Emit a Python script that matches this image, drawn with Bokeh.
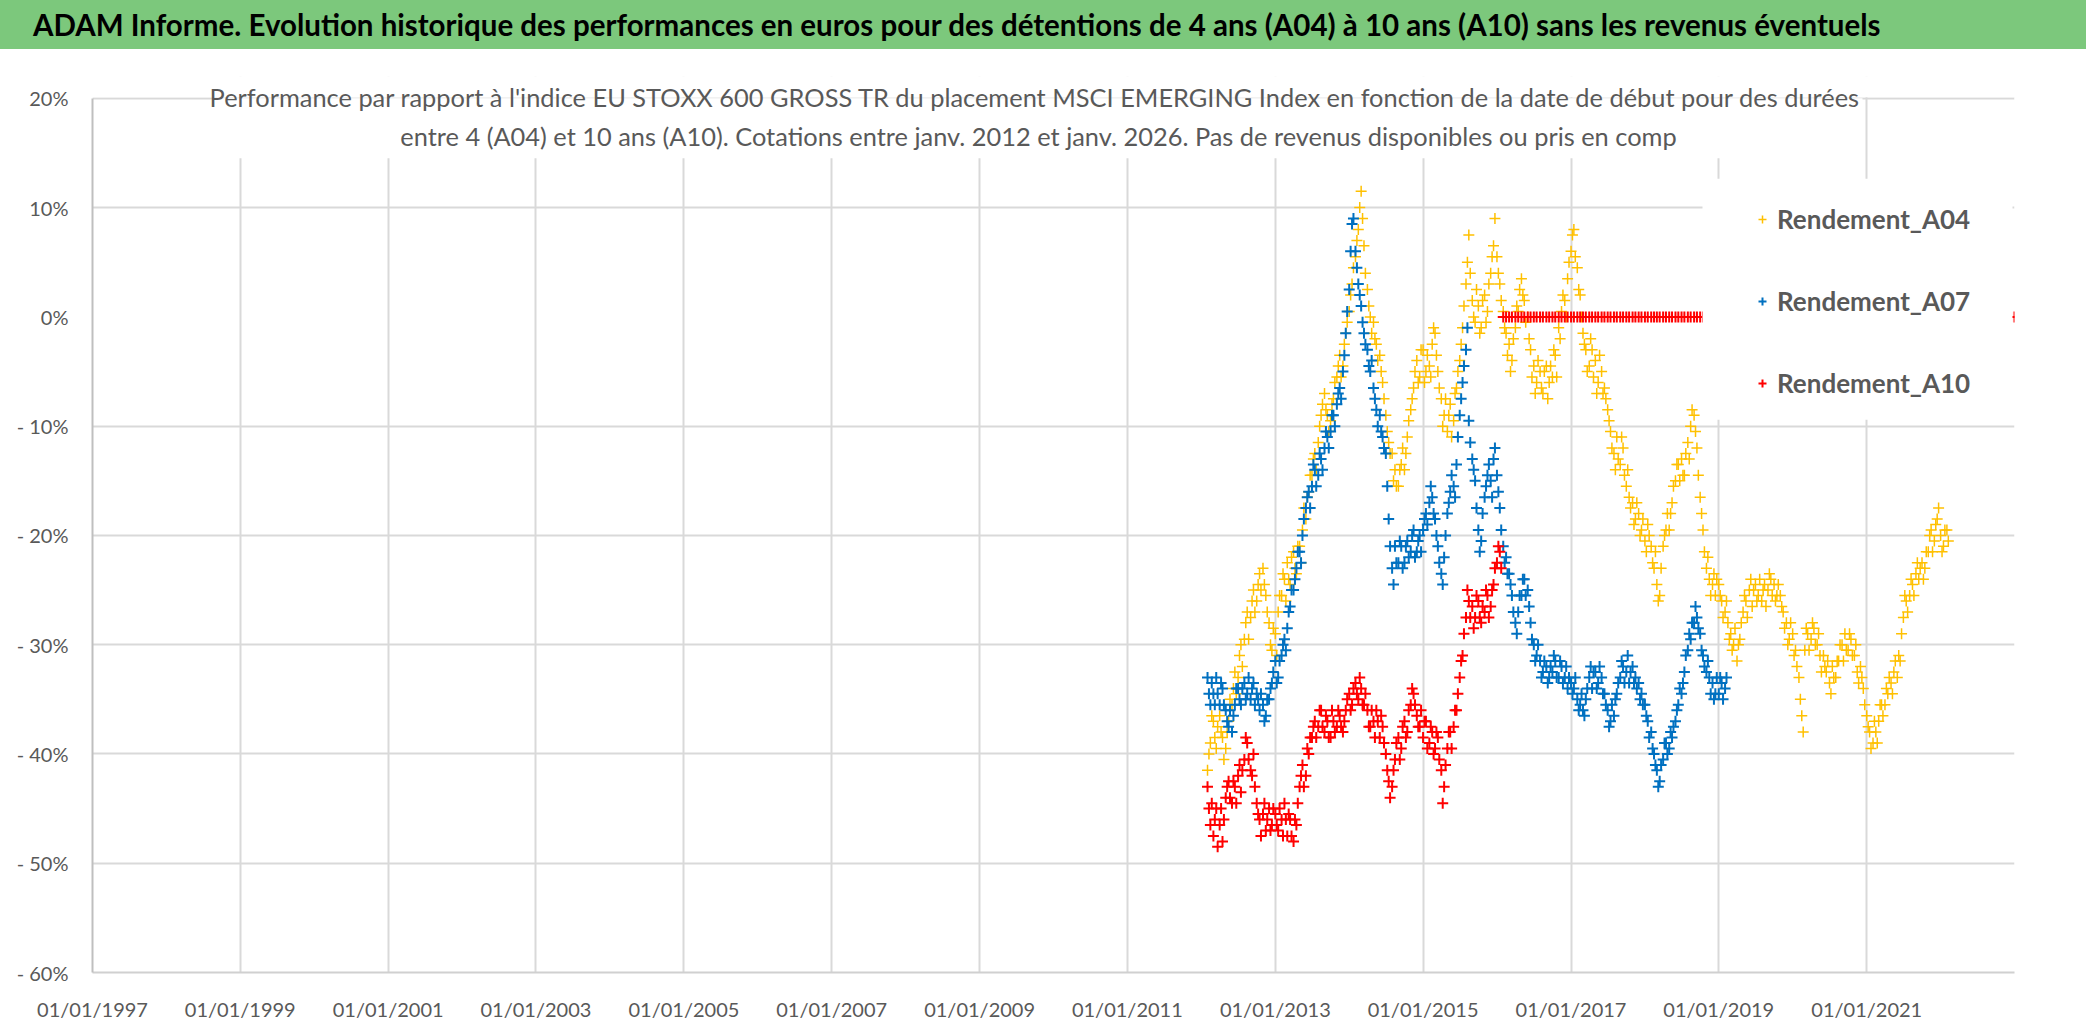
import pandas as pd
from bokeh.plotting import figure
from bokeh.layouts import column
from bokeh.models import (Range1d, FixedTicker, DatetimeTickFormatter, Label,
                          BoxAnnotation, Div)
from bokeh.embed import file_html
from bokeh.resources import INLINE

TITLE = ("ADAM Informe. Evolution historique des performances en euros pour des "
         "détentions de 4 ans (A04) à 10 ans (A10) sans les revenus éventuels")
SUB1 = ("Performance par rapport à l'indice EU STOXX 600 GROSS TR  du placement MSCI "
        "EMERGING Index en fonction de la date de début pour des durées")
SUB2 = ("entre 4 (A04) et 10 ans (A10). Cotations entre janv. 2012 et janv. 2026. "
        "Pas de revenus disponibles ou pris en comp")

SERIES = ["Rendement_A04", "Rendement_A07", "Rendement_A10"]
COLORS = ["#FFC000", "#0070C0", "#FF0000"]

# performance in %, from 01/02/2012
# *_A : readings on the 1st and 15th of each month, *_B : on the 8th and 22nd
START = "2012-02-01"
A04_A = [
    -41.5, -39.0, -37.0, -39.5, -36.5, -38.5, -39.5, -37.0, -35.5, -32.5, -33.0, -30.0,
    -29.5, -27.0, -27.5, -25.0, -26.0, -23.5, -23.0, -25.5, -28.0, -30.5,
    -29.0, -27.0, -25.5, -24.0, -22.5, -24.5, -21.5, -23.5, -21.0, -19.5, -18.5, -16.0,
    -14.5, -12.5, -11.5, -9.0, -7.0, -9.0, -9.5, -7.5, -5.5, -3.5, -4.5, -1.5,
    0.5, 3.0, 5.5, 8.0, 11.5, 6.5, 2.5, 0.0, -0.5, -2.5, -3.5, -6.0,
    -9.0, -11.5, -12.5, -14.0, -15.5, -13.5, -14.0, -11.0, -8.5, -6.5, -4.0, -5.5,
    -3.0, -5.0, -4.5, -2.5, -1.5, -5.0, -7.5, -9.0, -10.5, -8.0, -9.5, -6.5,
    -4.0, -1.0, 3.0, 7.5, 1.5, -0.5, 1.0, -1.0, 2.0, 0.5, 4.0, 6.5,
    5.5, 3.0, 0.5, -1.5, -2.5, -4.0, -1.0, 0.5, 3.5, 1.5, 0.0, -3.0,
    -4.5, -6.0, -5.0, -7.0, -4.5, -6.0, -5.5, -3.5, -1.0, 0.5, 1.5, 3.5,
    6.0, 8.0, 4.5, 2.0, -1.5, -3.0, -4.5, -3.0, -4.0, -6.0, -5.0, -6.5,
    -8.5, -10.5, -12.5, -11.0, -13.5, -12.0, -15.5, -16.5, -17.0, -18.5, -18.0, -19.5,
    -20.5, -19.0, -21.0, -23.0, -24.5, -25.5, -21.0, -19.5, -19.5, -17.0, -15.0, -13.5,
    -13.0, -14.5, -11.5, -10.0, -9.0, -12.0, -16.5, -19.5, -23.0, -24.0, -24.5, -25.5,
    -24.5, -26.0, -27.0, -28.0, -29.0, -30.0, -31.5, -29.5, -27.0, -26.0, -25.0, -26.5,
    -24.5, -25.5, -26.0, -24.5, -25.0, -24.0, -24.5, -25.5, -25.5, -27.0, -28.0, -29.5,
    -29.0, -30.5, -33.0, -36.5, -30.5, -29.0, -29.5, -28.5, -30.0, -31.0, -31.0, -32.5,
    -33.5, -32.0, -33.0, -31.5, -30.0, -29.0, -30.5, -29.5, -31.0, -32.5, -32.0, -34.0,
    -36.5, -38.0, -39.0, -38.0, -37.0, -35.5, -35.5, -34.5, -33.5, -32.5, -33.0, -31.5,
    -27.5, -26.0, -25.5, -24.5, -23.5, -24.0, -22.5, -23.0, -21.5, -19.5, -20.5, -18.5,
    -20.0, -21.0, -19.5,
]
A04_B = [
    -40.0, -36.5, -38.5, -37.5, -38.0, -40.5, -38.0, -35.0, -34.0, -34.5, -31.0, -32.0,
    -28.0, -29.5, -26.0, -27.0, -24.5, -25.0, -24.5, -27.0, -30.0, -28.5,
    -31.0, -25.5, -23.5, -26.0, -24.0, -22.0, -23.0, -21.0, -22.5, -17.5, -16.5, -14.5,
    -13.0, -14.0, -10.0, -8.0, -8.5, -10.5, -8.0, -6.0, -4.5, -5.5, -2.5, -0.5,
    2.0, 4.5, 7.0, 10.0, 9.0, 4.0, 1.0, -1.5, -2.0, -4.0, -5.0, -7.5,
    -10.5, -12.5, -15.0, -15.5, -14.0, -12.0, -12.5, -9.5, -7.5, -5.0, -6.0, -3.0,
    -6.0, -3.5, -5.5, -1.0, -3.5, -6.5, -10.0, -7.5, -9.0, -11.0, -7.0, -5.0,
    -2.5, 1.0, 5.0, 4.0, 0.0, 2.5, -1.5, 1.5, -0.5, 3.0, 5.5, 9.0,
    4.0, 1.5, -1.0, -3.5, -5.0, -2.0, 1.0, 2.5, 2.0, -0.5, -2.0, -5.5,
    -7.0, -4.0, -6.5, -5.0, -7.5, -4.5, -3.0, -5.5, -2.0, 2.0, 0.0, 5.0,
    7.5, 5.5, 2.5, 0.0, -2.5, -5.0, -2.0, -5.5, -7.0, -3.5, -7.0, -7.5,
    -9.5, -12.0, -14.0, -13.0, -11.0, -14.5, -14.0, -17.5, -19.0, -17.0, -20.0, -18.5,
    -21.5, -20.0, -22.5, -21.5, -26.0, -23.0, -20.0, -18.0, -18.0, -15.5, -13.5, -15.0,
    -14.5, -12.5, -13.0, -8.5, -10.5, -14.5, -18.0, -21.5, -22.0, -25.5, -23.5, -24.0,
    -25.5, -27.5, -26.0, -29.5, -30.5, -28.5, -30.0, -28.0, -25.5, -27.5, -24.0, -25.0,
    -26.0, -24.0, -25.0, -26.5, -23.5, -25.5, -26.0, -24.5, -26.5, -28.5, -30.0, -28.0,
    -31.0, -32.0, -35.0, -38.0, -28.5, -30.5, -28.0, -30.0, -29.0, -32.5, -32.0, -31.5,
    -34.5, -33.0, -31.5, -30.0, -31.5, -30.5, -29.0, -31.0, -30.0, -33.5, -33.0, -35.5,
    -37.5, -39.5, -37.0, -39.0, -35.5, -36.5, -34.0, -33.0, -34.5, -31.5, -31.0, -29.0,
    -25.5, -27.0, -24.0, -25.5, -22.5, -23.0, -24.0, -21.5, -20.0, -21.5, -19.0, -17.5,
    -21.5, -19.5, -20.5,
]
A07_A = [
    -33.0, -35.5, -34.5, -33.0, -35.5, -34.0, -36.0, -37.5, -38.0, -35.5, -34.0, -35.5,
    -33.5, -34.5, -35.0, -33.5, -34.5, -36.0, -35.5, -36.5, -35.0, -33.5,
    -31.5, -33.0, -31.0, -29.5, -28.5, -26.5, -25.0, -23.0, -21.5, -20.0, -17.5, -16.0,
    -15.5, -14.0, -14.5, -13.0, -12.0, -11.0, -10.5, -9.0, -8.0, -6.5, -5.0, -1.5,
    2.5, 8.5, 6.0, 3.0, 1.0, -1.5, -3.0, -5.0, -6.5, -8.5, -9.0, -11.0,
    -12.5, -18.5, -23.0, -21.0, -22.5, -21.0, -22.5, -20.5, -21.5, -19.5, -21.5, -20.0,
    -19.5, -18.0, -17.0, -16.5, -18.5, -21.0, -23.5, -22.0, -18.0, -16.0, -15.5, -13.5,
    -9.0, -6.0, -3.0, -9.5, -13.0, -15.0, -19.5, -20.5, -16.5, -14.5, -15.0, -13.0,
    -14.5, -17.5, -21.0, -22.0, -23.5, -25.5, -28.0, -27.0, -25.5, -24.0, -25.0, -28.0,
    -30.0, -31.0, -31.5, -32.5, -32.0, -33.0, -32.5, -31.5, -33.0, -32.0, -33.0, -34.0,
    -33.5, -34.0, -35.0, -35.5, -36.0, -35.0, -33.0, -34.0, -32.5, -33.5, -33.0, -34.5,
    -36.0, -37.0, -36.5, -34.5, -33.0, -32.0, -32.5, -33.5, -32.0, -33.0, -33.5, -34.5,
    -35.5, -37.0, -38.0, -40.0, -41.5, -42.5, -40.5, -39.0, -39.5, -38.5, -37.0, -35.5,
    -34.5, -32.5, -30.5, -29.5, -28.0, -27.5, -29.0, -31.0, -32.5, -33.0, -33.5, -34.5,
    -34.5, -33.5, -34.0,
]
A07_B = [
    -34.5, -33.5, -35.5, -34.5, -33.5, -35.5, -37.0, -36.0, -36.5, -34.0, -35.0, -34.0,
    -35.0, -33.0, -34.0, -35.5, -35.0, -34.5, -37.0, -35.0, -34.0, -32.5,
    -33.5, -31.5, -30.0, -30.5, -27.0, -25.0, -24.0, -21.5, -22.5, -18.5, -16.5, -17.5,
    -13.5, -15.5, -12.5, -14.0, -10.5, -12.0, -9.0, -10.0, -7.0, -7.5, -3.5, 0.5,
    6.0, 9.0, 4.5, 2.0, -0.5, -2.5, -4.5, -4.0, -7.5, -10.0, -10.5, -12.0,
    -15.5, -21.0, -24.5, -22.5, -20.5, -23.0, -21.0, -22.0, -20.0, -22.0, -20.5, -21.5,
    -18.5, -19.0, -15.5, -18.0, -20.0, -22.5, -24.5, -20.0, -17.0, -14.5, -16.5, -11.0,
    -7.5, -4.5, -1.0, -11.5, -14.0, -17.5, -21.5, -18.0, -15.5, -13.5, -16.5, -12.0,
    -16.0, -19.5, -22.5, -23.5, -24.5, -27.0, -29.0, -25.5, -24.0, -25.5, -26.5, -29.5,
    -31.5, -30.0, -33.0, -31.5, -33.5, -32.0, -31.0, -33.0, -31.5, -33.5, -32.0, -33.0,
    -34.5, -33.0, -36.0, -34.5, -36.5, -34.0, -32.0, -32.5, -34.0, -32.0, -34.5, -35.5,
    -37.5, -35.5, -35.0, -33.5, -31.5, -33.5, -31.0, -32.5, -33.5, -34.0, -35.0, -35.5,
    -36.5, -38.5, -39.5, -41.0, -43.0, -41.0, -39.0, -40.0, -38.0, -37.5, -36.0, -34.0,
    -33.5, -31.0, -29.0, -28.0, -26.5, -28.5, -30.5, -32.0, -31.5, -34.5, -35.0, -33.0,
    -33.0, -35.0, -33.0,
]
# A10: from 02/2016 the sheet has no 10 year result and shows 0 up to the end of the axis
A10_A = [
    -43.0, -46.5, -47.5, -45.0, -46.5, -48.0, -44.0, -42.5, -44.5, -43.0, -42.0, -43.5,
    -40.5, -39.0, -41.5, -40.0, -44.5, -46.0, -45.5, -47.0, -45.0, -46.5,
    -45.5, -47.0, -46.0, -44.5, -47.5, -46.0, -48.0, -46.5, -43.0, -41.0, -42.0, -40.0,
    -38.5, -37.0, -37.5, -36.0, -38.0, -37.0, -38.5, -37.0, -37.5, -36.5, -38.0, -36.0,
    -34.5, -35.5, -33.5, -35.0, -34.0, -35.5, -36.0, -37.5, -37.0, -36.0, -38.5, -37.5,
    -40.0, -42.5, -43.0, -40.5, -38.5, -39.5, -37.0, -38.0, -35.5, -34.5, -36.5, -37.5,
    -38.5, -37.0, -39.0, -38.0, -39.5, -38.5, -41.5, -43.0, -39.5, -38.0, -37.5, -36.0,
    -33.0, -31.0, -27.5, -26.0, -26.5, -27.5, -26.0, -28.0, -27.0, -25.5, -26.5, -24.5,
    -22.5, -21.5,
    0, 0, 0, 0, 0, 0, 0, 0, 0, 0, 0, 0, 0, 0, 0, 0, 0, 0, 0, 0, 0, 0,
    0, 0, 0, 0, 0, 0, 0, 0, 0, 0, 0, 0, 0, 0, 0, 0, 0, 0, 0, 0, 0, 0, 0, 0,
    0, 0, 0, 0, 0, 0, 0, 0, 0, 0, 0, 0, 0, 0, 0, 0, 0, 0, 0, 0, 0, 0, 0, 0,
    0, 0, 0, 0, 0, 0, 0, 0, 0, 0, 0, 0, 0, 0, 0, 0, 0, 0, 0, 0, 0, 0, 0, 0,
    0, 0, 0, 0, 0, 0, 0, 0, 0, 0, 0, 0, 0, 0, 0, 0, 0, 0, 0, 0, 0, 0, 0, 0,
    0, 0, 0, 0, 0, 0, 0, 0, 0, 0, 0, 0, 0, 0, 0, 0, 0, 0, 0, 0, 0, 0, 0, 0,
    0, 0, 0, 0, 0, 0, 0, 0, 0, 0, 0, 0, 0, 0, 0, 0, 0, 0, 0, 0, 0, 0, 0, 0,
    0,
]
A10_B = [
    -45.0, -44.5, -46.0, -48.5, -45.0, -46.0, -43.0, -44.0, -42.5, -44.5, -41.0, -41.5,
    -38.5, -40.5, -42.0, -43.0, -45.5, -47.5, -44.5, -46.0, -47.0, -45.0,
    -46.5, -45.0, -47.5, -46.0, -45.5, -47.5, -46.0, -44.5, -42.0, -43.0, -39.5, -38.5,
    -37.5, -38.5, -36.0, -37.5, -36.5, -38.5, -36.0, -38.0, -36.0, -37.5, -37.0, -35.0,
    -36.0, -34.0, -34.5, -33.0, -35.5, -34.5, -37.5, -36.0, -38.5, -37.0, -36.5, -39.0,
    -41.5, -44.0, -41.5, -39.0, -40.5, -37.5, -38.5, -36.0, -34.0, -35.5, -37.5, -36.0,
    -37.0, -39.5, -37.5, -40.0, -38.0, -40.5, -44.5, -41.0, -38.0, -39.5, -36.0, -34.5,
    -31.5, -29.0, -25.0, -27.5, -28.5, -25.5, -27.5, -26.5, -25.0, -27.5, -25.0, -23.0,
    -21.0, -23.0,
]

Y_TICKS = [-60, -50, -40, -30, -20, -10, 0, 10, 20]
Y_LABELS = ["- 60%", "- 50%", "- 40%", "- 30%", "- 20%", "- 10%", "0%", "10%", "20%"]
X_LABELS = ["01/01/1997", "01/01/1999", "01/01/2001", "01/01/2003", "01/01/2005",
            "01/01/2007", "01/01/2009", "01/01/2011", "01/01/2013", "01/01/2015",
            "01/01/2017", "01/01/2019", "01/01/2021"]
X_START, X_END = "1997-01-01", "2023-01-01"
Y_TOP = 22  # a little room above 20% for the chart title

FONT = "Lato"
GREY = "#595959"
GREEN = "#7CC87C"
W = 2086
HEAD_H = 49
MAIN_H = 982
ML, MR, MT, MB = 92, 72, 27, 59
FRAME_W = W - ML - MR
FRAME_H = MAIN_H - MT - MB
PX_PER_PCT = FRAME_H / (Y_TOP - Y_TICKS[0])


def ms(s, fmt=None):
    return pd.to_datetime(s, format=fmt).value / 1e6


X0, X1 = ms(X_START), ms(X_END)


def fx(px):
    # pixels from the frame left -> data x
    return X0 + (X1 - X0) * px / FRAME_W


def fy(py):
    # pixels below the 20% line -> data y
    return Y_TICKS[-1] - py / PX_PER_PCT


# green banner
head = Div(text=TITLE, width=W, height=HEAD_H, margin=0,
           styles={"background-color": GREEN, "font-family": FONT, "font-weight": "bold",
                   "font-size": "29.5px", "color": "black", "line-height": "49px",
                   "padding-left": "33px", "box-sizing": "border-box",
                   "white-space": "nowrap", "overflow": "hidden"})

p = figure(width=W, height=MAIN_H, x_axis_type="datetime",
           x_range=Range1d(X0, X1), y_range=Range1d(Y_TICKS[0], Y_TOP),
           toolbar_location=None, output_backend="svg", margin=0,
           min_border_left=ML, min_border_right=MR, min_border_top=MT, min_border_bottom=MB)
p.outline_line_color = None
p.background_fill_color = "white"
p.border_fill_color = "white"

x_ticks = [ms(s, "%d/%m/%Y") for s in X_LABELS]
p.xaxis.ticker = FixedTicker(ticks=x_ticks)
p.xaxis.formatter = DatetimeTickFormatter(
    years="%d/%m/%Y", months="%d/%m/%Y", days="%d/%m/%Y", hours="%d/%m/%Y")
p.yaxis.ticker = FixedTicker(ticks=Y_TICKS)
p.yaxis.major_label_overrides = dict(zip(Y_TICKS, Y_LABELS))
p.yaxis.bounds = (Y_TICKS[0], Y_TICKS[-1])
p.xgrid.ticker = FixedTicker(ticks=x_ticks)
p.ygrid.ticker = FixedTicker(ticks=[t for t in Y_TICKS if t != 0])
p.grid.grid_line_color = "#D9D9D9"
p.grid.grid_line_width = 2

for ax in (p.xaxis, p.yaxis):
    ax.major_tick_line_color = None
    ax.minor_tick_line_color = None
    ax.major_label_text_font = FONT
    ax.major_label_text_font_size = "20px"
    ax.major_label_text_color = GREY
    ax.major_label_standoff = 18
p.xaxis.axis_line_color = "#D0D0D0"
p.xaxis.axis_line_width = 2
p.yaxis.axis_line_color = "#BFBFBF"
p.yaxis.axis_line_width = 2

# white areas: above 20%, behind the chart title and behind the legend
# (added before the glyphs so that the legend is drawn over them)
white = dict(fill_color="white", fill_alpha=1, line_color=None)
p.add_layout(BoxAnnotation(left=X0, right=X1, top=Y_TOP + 1, bottom=fy(-1.2), **white))
p.add_layout(BoxAnnotation(left=fx(124), right=fx(1770), top=fy(0), bottom=fy(60), **white))
p.add_layout(BoxAnnotation(left=fx(1610), right=fx(1920), top=fy(80.5), bottom=fy(321.5), **white))
for txt, py in ((SUB1, -1.5), (SUB2, 37.5)):
    p.add_layout(Label(x=fx(946), y=fy(py), text=txt, text_font=FONT,
                       text_font_size="25.4px", text_color=GREY,
                       text_align="center", text_baseline="middle"))

for name, va, vb, color, lw in zip(SERIES, [A04_A, A07_A, A10_A], [A04_B, A07_B, A10_B],
                                   COLORS, [1.5, 2, 2]):
    da = pd.date_range(START, periods=len(va), freq="SMS")
    db = pd.date_range(START, periods=len(vb), freq="SMS") + pd.Timedelta(days=7)
    p.scatter(x=list(da) + list(db), y=va + vb, marker="cross", size=11,
              line_color=color, line_width=lw, legend_label=name)

lg = p.legend[0]
lg.location = (1655, 573)
lg.padding = 0
lg.margin = 0
lg.spacing = 50
lg.glyph_width = 30
lg.glyph_height = 20
lg.label_height = 30
lg.label_standoff = 0
lg.label_text_font = FONT
lg.label_text_font_size = "26px"
lg.label_text_font_style = "bold"
lg.label_text_color = GREY
lg.border_line_color = None
lg.background_fill_alpha = 0

page = column(head, p, spacing=0, margin=0)
open("out.html", "w").write(file_html(page, INLINE))
